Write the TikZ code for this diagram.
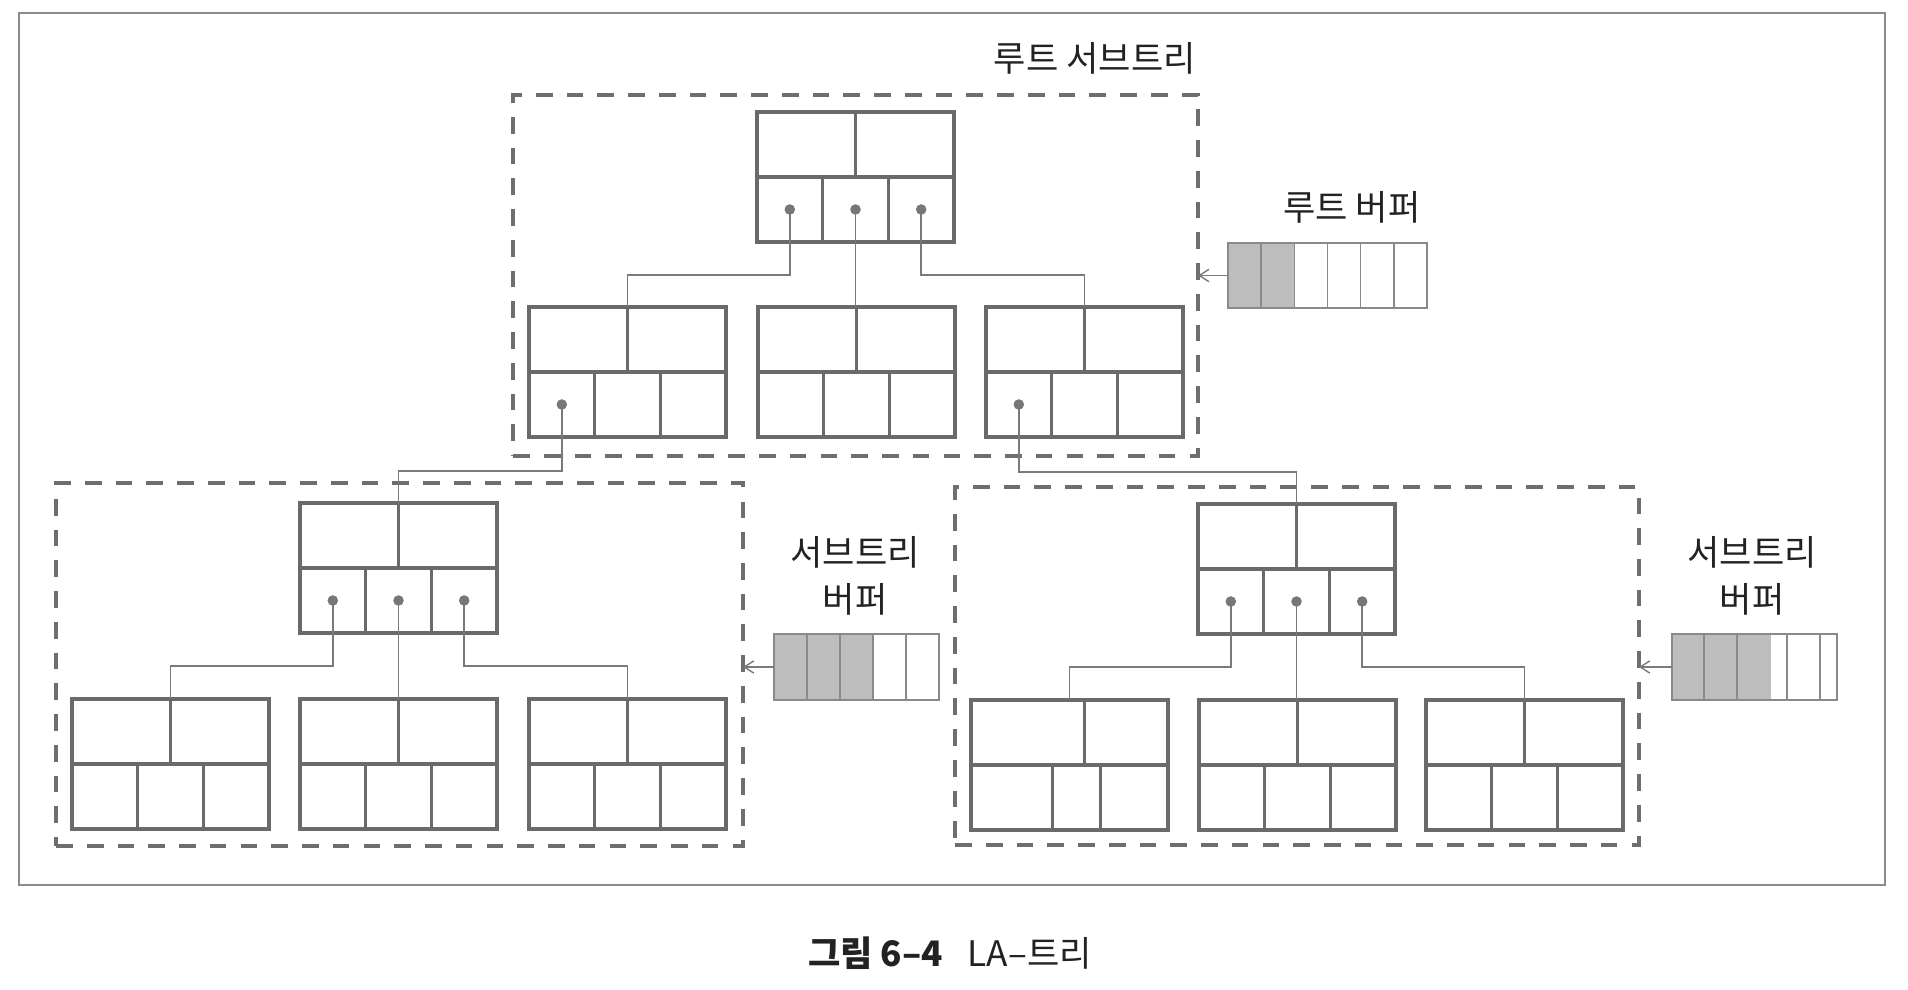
\documentclass[tikz,border=0pt]{standalone}
\usepackage{fontspec}
\setmainfont{Noto Sans CJK KR}
\usetikzlibrary{calc,arrows.meta}
\definecolor{nodeline}{HTML}{6a6a6a}
\definecolor{connline}{HTML}{7a7a7a}
\definecolor{dashline}{HTML}{6e6e6e}
\definecolor{dotcol}{HTML}{777777}
\definecolor{bufgray}{HTML}{bdbdbd}
\definecolor{bufline}{HTML}{8a8a8a}
\definecolor{framecol}{HTML}{8c8c8c}
\definecolor{txt}{HTML}{222222}
\tikzset{
  bn/.style={rectangle, draw=nodeline, line width=1.8pt, minimum width=3.94cm, minimum height=2.6cm, inner sep=0pt, outer sep=0pt},
  bnl/.style={draw=nodeline, line width=1.8pt},
  conn/.style={draw=connline, line width=0.85pt},
  dotnode/.style={circle, fill=dotcol, minimum size=0.2cm, inner sep=0pt, outer sep=0pt},
  dbox/.style={rectangle, draw=dashline, line width=2pt, dash pattern=on 9.5pt off 8pt, inner sep=0pt, outer sep=0pt},
  bufbox/.style={rectangle, inner sep=0pt, outer sep=0pt, minimum height=1.31cm},
  bufl/.style={draw=bufline, line width=0.9pt},
  arr/.style={draw=connline, line width=0.8pt, -{Straight Barb[length=5.5pt,width=7pt]}},
  lbl/.style={text=txt, font=\fontsize{20}{26.7}\selectfont, inner sep=0pt},
  framebox/.style={rectangle, draw=framecol, line width=1pt, inner sep=0pt, outer sep=0pt}
}
\newcommand\bnode[3]{%
  \node[bn] (#1) at (#2+98.5,#3+65) {};
  \draw[bnl] (#1.west) -- (#1.east) (#1.north) -- (#1.center)
    ($(#1.south west)!1/3!(#1.south east)$) -- ($(#1.west)!1/3!(#1.east)$)
    ($(#1.south west)!2/3!(#1.south east)$) -- ($(#1.west)!2/3!(#1.east)$);
}
\newcommand\bnodex[6]{%
  \node[bn] (#1) at (#2+98.5,#3+65) {};
  \draw[bnl] (#1.west) -- (#1.east)
    ($(#1.north west)!#4!(#1.north east)$) -- ($(#1.west)!#4!(#1.east)$)
    ($(#1.south west)!#5!(#1.south east)$) -- ($(#1.west)!#5!(#1.east)$)
    ($(#1.south west)!#6!(#1.south east)$) -- ($(#1.west)!#6!(#1.east)$);
}
\begin{document}
\begin{tikzpicture}[x=0.02cm,y=-0.02cm]
\useasboundingbox (0,0) rectangle (1908,990);
\fill[white] (0,0) rectangle (1908,990);

% outer frame
\node[framebox, minimum width=37.32cm, minimum height=17.44cm] (frame) at (952,449) {};

% dashed subtree boxes
\node[dbox, minimum width=13.7cm, minimum height=7.22cm] (rootbox) at (855.5,275.5) {};
\node[dbox, minimum width=13.74cm, minimum height=7.26cm] (leftbox) at (399.5,664.5) {};
\node[dbox, minimum width=13.68cm, minimum height=7.16cm] (rightbox) at (1297,666) {};

% titles
\node[lbl, anchor=east] (title) at (1196,58) {루트 서브트리};

% tree nodes
\bnode{R}{757}{112}
\bnode{A}{529}{307}
\bnode{B}{758}{307}
\bnode{C}{986}{307}
\bnode{L}{300}{503}
\bnode{La}{72}{699}
\bnode{Lb}{300}{699}
\bnode{Lc}{529}{699}
\bnode{Rt}{1198}{504}
\bnodex{Ra}{971}{700}{0.577}{0.413}{0.658}
\bnode{Rb}{1199}{700}
\bnode{Rc}{1426}{700}

% dots
\node[dotnode] (Rd1) at ($(R.center)+(-65.7,32.5)$) {};
\node[dotnode] (Rd2) at ($(R.center)+(0,32.5)$) {};
\node[dotnode] (Rd3) at ($(R.center)+(65.7,32.5)$) {};
\node[dotnode] (Ad1) at ($(A.center)+(-65.7,32.5)$) {};
\node[dotnode] (Cd1) at ($(C.center)+(-65.7,32.5)$) {};
\node[dotnode] (Ld1) at ($(L.center)+(-65.7,32.5)$) {};
\node[dotnode] (Ld2) at ($(L.center)+(0,32.5)$) {};
\node[dotnode] (Ld3) at ($(L.center)+(65.7,32.5)$) {};
\node[dotnode] (Td1) at ($(Rt.center)+(-65.7,32.5)$) {};
\node[dotnode] (Td2) at ($(Rt.center)+(0,32.5)$) {};
\node[dotnode] (Td3) at ($(Rt.center)+(65.7,32.5)$) {};

% connectors
\draw[conn] (Rd1.center) |- (A.north |- 0,275) -- (A.north);
\draw[conn] (Rd2.center) -- (Rd2.center |- B.north);
\draw[conn] (Rd3.center) |- (C.north |- 0,275) -- (C.north);
\draw[conn] (Ad1.center) |- (L.north |- 0,471) -- (L.north);
\draw[conn] (Cd1.center) |- (Rt.north |- 0,472) -- (Rt.north);
\draw[conn] (Ld1.center) |- (La.north |- 0,666) -- (La.north);
\draw[conn] (Ld2.center) -- (Ld2.center |- Lb.north);
\draw[conn] (Ld3.center) |- (Lc.north |- 0,666) -- (Lc.north);
\draw[conn] (Td1.center) |- (Ra.north |- 0,667) -- (Ra.north);
\draw[conn] (Td2.center) -- (Td2.center |- Rb.north);
\draw[conn] (Td3.center) |- (Rc.north |- 0,667) -- (Rc.north);
% redraw dots on top
\foreach \d in {Rd1,Rd2,Rd3,Ad1,Cd1,Ld1,Ld2,Ld3,Td1,Td2,Td3}
  \fill[dotcol] (\d.center) circle (5.2);

% root buffer
\node[lbl] (rbuft) at (1352,207) {루트 버퍼};
\node[bufbox, minimum width=3.98cm] (rbuf) at (1327.5,275.5) {};
\fill[bufgray] (rbuf.south west) rectangle ($(rbuf.north west)!2/6!(rbuf.north east)$);
\foreach \f in {1,2,3,4,5}
  \draw[bufl] ($(rbuf.south west)!\f/6!(rbuf.south east)$) -- ($(rbuf.north west)!\f/6!(rbuf.north east)$);
\draw[bufl] (rbuf.south west) rectangle (rbuf.north east);
\draw[arr] (rbuf.west) -- (rbuf.west -| rootbox.east);

% left subtree buffer
\node[lbl, align=center] (lbuft) at (855,576) {서브트리\\버퍼};
\node[bufbox, minimum width=3.3cm] (lbuf) at (856.5,667) {};
\fill[bufgray] (lbuf.south west) rectangle ($(lbuf.north west)!3/5!(lbuf.north east)$);
\foreach \f in {1,2,3,4}
  \draw[bufl] ($(lbuf.south west)!\f/5!(lbuf.south east)$) -- ($(lbuf.north west)!\f/5!(lbuf.north east)$);
\draw[bufl] (lbuf.south west) rectangle (lbuf.north east);
\draw[arr] (lbuf.west) -- (lbuf.west -| leftbox.east);

% right subtree buffer
\node[lbl, align=center] (rbuft2) at (1752,576) {서브트리\\버퍼};
\node[bufbox, minimum width=3.3cm] (sbuf) at (1754.5,667) {};
\fill[bufgray] (sbuf.south west) rectangle ($(sbuf.north west)!0.6!(sbuf.north east)$);
\foreach \f in {0.194,0.394,0.697,0.897}
  \draw[bufl] ($(sbuf.south west)!\f!(sbuf.south east)$) -- ($(sbuf.north west)!\f!(sbuf.north east)$);
\draw[bufl] (sbuf.south west) rectangle (sbuf.north east);
\draw[arr] (sbuf.west) -- (sbuf.west -| rightbox.east);

% caption
\node[lbl] (caption) at (950,953) {\textbf{그림 6–4}\hspace{0.7em}LA–트리};
\end{tikzpicture}
\end{document}
